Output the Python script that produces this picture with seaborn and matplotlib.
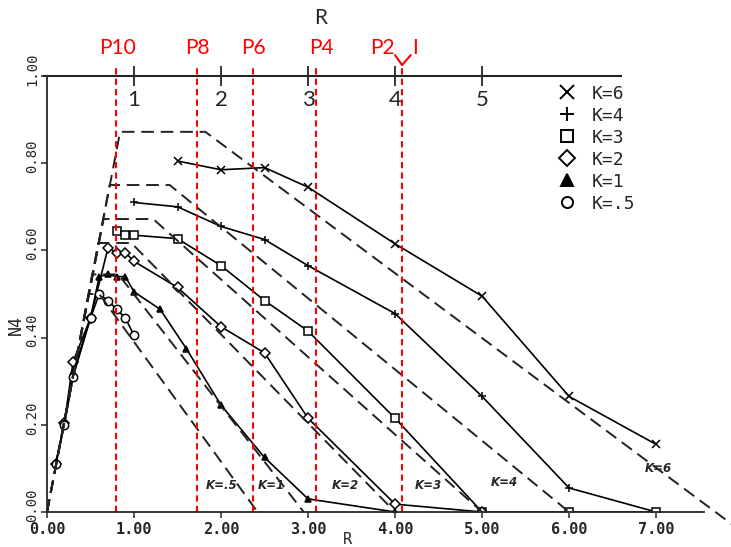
import numpy as np
import pandas as pd
import matplotlib
matplotlib.use('Agg')
import matplotlib.pyplot as plt
import seaborn as sns
from matplotlib.lines import Line2D

r_k6 = [1.5, 2.0, 2.5, 3.0, 4.0, 5.0, 6.0, 7.0]
n4_k6 = [0.805, 0.785, 0.79, 0.745, 0.615, 0.495, 0.265, 0.155]
r_k4 = [1.0, 1.5, 2.0, 2.5, 3.0, 4.0, 5.0, 6.0, 7.0]
n4_k4 = [0.71, 0.70, 0.655, 0.625, 0.565, 0.455, 0.265, 0.055, 0.0]
r_k3 = [0.8, 0.9, 1.0, 1.5, 2.0, 2.5, 3.0, 4.0, 5.0, 6.0, 7.0]
n4_k3 = [0.645, 0.635, 0.635, 0.627, 0.565, 0.485, 0.415, 0.215, 0.0, 0.0, 0.0]
r_k2 = [0.1, 0.2, 0.3, 0.5, 0.7, 0.8, 0.9, 1.0, 1.5, 2.0, 2.5, 3.0, 4.0, 5.0]
n4_k2 = [0.11, 0.205, 0.345, 0.445, 0.605, 0.595, 0.595, 0.575, 0.515, 0.425, 0.365, 0.215, 0.018, 0.0]
r_k1 = [0.1, 0.2, 0.3, 0.5, 0.6, 0.7, 0.8, 0.9, 1.0, 1.3, 1.6, 2.0, 2.5, 3.0, 4.0]
n4_k1 = [0.11, 0.205, 0.32, 0.445, 0.54, 0.545, 0.54, 0.54, 0.505, 0.465, 0.375, 0.245, 0.125, 0.03, 0.0]
r_k05 = [0.1, 0.2, 0.3, 0.5, 0.6, 0.7, 0.8, 0.9, 1.0]
n4_k05 = [0.11, 0.2, 0.31, 0.445, 0.5, 0.485, 0.465, 0.445, 0.405]

# dashed theoretical bounds (corner points)
b_k6_r, b_k6_v = [0, 0.84, 1.82, 7.95], [0, 0.872, 0.872, -0.04]
b_k4_r, b_k4_v = [0, 0.72, 1.41, 6.0], [0, 0.75, 0.75, 0]
b_k3_r, b_k3_v = [0, 0.65, 1.22, 5.0], [0, 0.672, 0.672, 0]
b_k2_r, b_k2_v = [0, 0.59, 0.97, 4.0], [0, 0.617, 0.617, 0]
b_k1_r, b_k1_v = [0, 0.52, 0.82, 2.95], [0, 0.545, 0.545, 0]
b_k05_r, b_k05_v = [0, 0.48, 0.60, 2.42], [0, 0.50, 0.50, 0]

labels = ['K=6', 'K=4', 'K=3', 'K=2', 'K=1', 'K=.5']
curve_tags = ['K=6', 'K=4', 'K=2', 'K=3', 'K=1', 'K=.5']
tag_r = [7.02, 5.25, 3.43, 4.38, 2.58, 2.01]
tag_v = [0.10, 0.068, 0.06, 0.06, 0.06, 0.06]

# red overlay: P positions on the R axis
red_r = [0.79, 1.72, 2.37, 3.09, 4.08]
red_names = ['P10', 'P8', 'P6', 'P4', 'P2', 'I']
red_name_r = [0.81, 1.73, 2.37, 3.15, 3.86, 4.23]
top_ticks = [1, 2, 3, 4, 5]
y_ticks = [0, 0.2, 0.4, 0.6, 0.8, 1.0]

sns.set_style('ticks')
plt.rcParams['font.family'] = ['DejaVu Sans Mono', 'DejaVu Sans']

fig = plt.figure(figsize=(7.31, 5.47), dpi=100)
ax = fig.add_axes([0.0643, 0.064, 0.8988, 0.797])

series = [
    (r_k6, n4_k6, 'x', 'black'),
    (r_k4, n4_k4, '+', 'black'),
    (r_k3, n4_k3, 's', 'white'),
    (r_k2, n4_k2, 'D', 'white'),
    (r_k1, n4_k1, '^', 'black'),
    (r_k05, n4_k05, 'o', 'white'),
]
for r, v, m, fc in series:
    sns.lineplot(x=r, y=v, ax=ax, color='black', lw=1.2, marker=m,
                 markersize=6 if m not in ('D', '^') else 5,
                 mfc=fc, mec='black', mew=1.1, sort=False, estimator=None)

bounds = [(b_k6_r, b_k6_v), (b_k4_r, b_k4_v), (b_k3_r, b_k3_v),
          (b_k2_r, b_k2_v), (b_k1_r, b_k1_v), (b_k05_r, b_k05_v)]
for br, bv in bounds:
    ax.plot(br, bv, color='#222222', lw=1.4, dashes=(6.5, 3.5), clip_on=False)

for t, x, y in zip(curve_tags, tag_r, tag_v):
    ax.text(x, y, t, fontsize=8.5, style='italic', fontweight='bold',
            family='DejaVu Sans', ha='center', va='center')

# red lines and labels
ax.vlines(red_r, 0, 1.025, colors='red', linestyles=(0, (3, 2)), lw=1.5, clip_on=False)
ax.plot([red_r[-1] - 0.08, red_r[-1], red_r[-1] + 0.1], [1.048, 1.025, 1.048],
        color='red', lw=1.5, clip_on=False)
for name, x in zip(red_names, red_name_r):
    ax.text(x, 1.064, name, color='red', fontsize=15, family='Lato',
            ha='center', va='center')

# top R axis
sec = ax.secondary_xaxis('top')
sec.set_xticks(top_ticks)
sec.tick_params(direction='inout', length=14, width=1.3, labeltop=False)
sec.spines['top'].set_bounds(-0.03, 6.6)
sec.spines['top'].set_linewidth(1.5)
for t in top_ticks:
    ax.text(t, 0.945, str(t), fontsize=16, family='Lato', ha='center', va='center')
ax.text(3.14, 1.133, 'R', fontsize=15, family='Lato', ha='center', va='center')

ax.set_xlim(0, 7.55)
ax.set_ylim(0, 1.0)
ax.set_xticks(range(8))
ax.set_xticklabels([f'{v:.2f}' for v in range(8)], fontsize=11, fontweight='bold')
ax.set_yticks(y_ticks)
ax.set_yticklabels([])
# rotated y labels sit a little above their ticks in the scan
for v in y_ticks:
    ax.text(-0.023, v + 0.016, f'{v:.2f}', transform=ax.get_yaxis_transform(),
            rotation=90, ha='center', va='center', fontsize=10)
ax.tick_params(length=4, width=1.1)
ax.spines['top'].set_visible(False)
ax.spines['right'].set_visible(False)
ax.spines['left'].set_bounds(0, 1.0)
ax.spines['left'].set_linewidth(1.3)
ax.spines['bottom'].set_linewidth(1.3)
ax.set_xlabel('R', fontsize=11)
ax.set_ylabel('N4', fontsize=12)
ax.xaxis.set_label_coords(0.457, -0.045)
ax.yaxis.set_label_coords(-0.034, 0.43)

handles = [Line2D([], [], ls='none', marker=m, color='black', mfc=fc,
                  mec='black', mew=1.4, markersize=10 if m in ('x', '+') else 8)
           for _, _, m, fc in series]
ax.legend(handles, labels, loc='upper left', bbox_to_anchor=(0.778, 0.98),
          frameon=False, fontsize=13, handlelength=1.0, handletextpad=0.88,
          labelspacing=0.22, borderpad=0, borderaxespad=0)

fig.savefig('out.png', dpi=100)
